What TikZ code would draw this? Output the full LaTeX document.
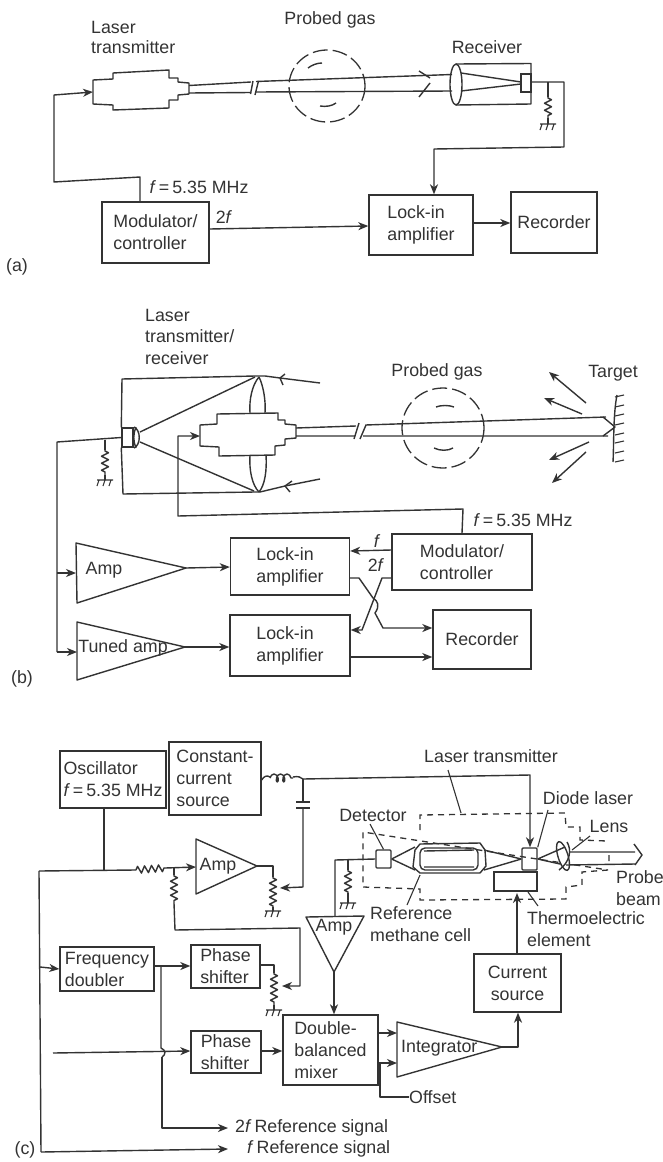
\documentclass[tikz,border=0pt]{standalone}
\usepackage{fontspec}
\setmainfont{Liberation Sans}
\usetikzlibrary{arrows.meta,decorations.pathmorphing,calc}
\definecolor{ink}{HTML}{333333}
\newcommand{\fq}{\textit{f}}
\tikzset{
  wire/.style={draw=ink,line width=1.4pt,line join=round},
  thin wire/.style={draw=ink,line width=1.1pt},
  arr/.style={wire,-{Stealth[length=10pt,width=8pt,inset=3pt]}},
  dash box/.style={draw=ink,line width=1.3pt,dash pattern=on 6pt off 5pt},
  gasline/.style={draw=ink,line width=1.3pt,dash pattern=on 15pt off 5pt},
  blk/.style={draw=ink,line width=1.4pt,inner sep=0pt,align=left,text=ink,fill=white,
     font=\fontsize{17.8}{22}\selectfont},
  lab/.style={inner sep=0pt,align=left,text=ink,font=\fontsize{17.8}{22}\selectfont},
  labl/.style={lab,anchor=west},
  res/.style={wire,decorate,decoration={zigzag,segment length=7pt,amplitude=3.5pt,pre length=1pt,post length=1pt}},
  coilw/.style={wire,decorate,decoration={coil,segment length=6.5pt,amplitude=4pt,aspect=0.6}},
  gnd/.pic={\draw[thin wire] (-8,0)--(8,0) (-6,0)--(-8,6) (0,0)--(-2,6) (6,0)--(4,6);},
}
\begin{document}
\begin{tikzpicture}[x=1pt,y=-1pt]
\useasboundingbox (0,0) rectangle (663,1162);
\fill[white] (0,0) rectangle (663,1162);

%%%%%%%%%% panel (a)
\node[labl] (aL1) at (91,27) {Laser};
\node[labl] (aL2) at (91,47) {transmitter};
\node[lab] (aGasT) at (330,20) {Probed gas};
\node[lab] (aRecT) at (487,47) {Receiver};
\node[lab] (aF) at (199,187) {\fq\,=\,5.35 MHz};
\node[lab] (a2f) at (224,217) {2\fq};
\node[lab] (aPan) at (17,267) {(a)};

\node[blk,minimum width=107,minimum height=61] (amod) at (155.5,232.5) {Modulator/\\controller};
\node[blk,minimum width=104,minimum height=60] (alock) at (421,225) {Lock-in\\amplifier};
\node[blk,minimum width=86,minimum height=61] (arec) at (554,222.5) {Recorder};
\coordinate (amodT) at (140,202);
\coordinate (aw1) at (140,177);
\coordinate (aw2) at (54,182);
\coordinate (aw3) at (54,95);
\coordinate (alasIn) at (93,92);
\draw[arr] (amodT)--(aw1)--(aw2)--(aw3)--(alasIn);
\draw[wire] (93,80)--(113,79)--(113,73)--(169,70)--(169,78)--(178,78)--(178,82)--(189,83)--(189,94)--(178,95)--(178,100)--(169,100)--(169,108)--(113,110)--(113,105)--(93,104)--cycle;
\coordinate (abT1) at (189,85.5); \coordinate (abT2) at (251,82);
\coordinate (abT3) at (256,81.5); \coordinate (abT4) at (452,74.5);
\coordinate (abB1) at (189,93); \coordinate (abB2) at (251,92.5);
\coordinate (abB3) at (256,92); \coordinate (abB4) at (452,91);
\draw[wire] (abT1)--(abT2) (abT3)--(abT4) (abB1)--(abB2) (abB3)--(abB4);
\draw[wire] (253,81)--(250.5,94) (258.5,81)--(255,95);
\draw[wire] (419,71)--(430,78) (430,83)--(419,97);
\draw[gasline] (327,86) ellipse (38 and 36);
\draw[wire] (308,68) .. controls (312,65) and (317,63) .. (322,63);
\draw[wire] (320,106) .. controls (326,107) and (332,106) .. (336,103);
% receiver
\draw[wire] (456,64)--(531,63.5)--(531,104)--(456,105);
\draw[wire] (456,84.5) ellipse (6 and 20.5);
\draw[wire] (461,73)--(521,82) (461,91)--(521,84);
\node[draw=ink,line width=1.4pt,fill=white,inner sep=0pt,minimum width=10,minimum height=18] (adet) at (526,83) {};
\coordinate (aJ) at (548,82);
\coordinate (aw4) at (564,82);
\coordinate (aw5) at (564,147);
\coordinate (aw6) at (434,149);
\draw[arr] (adet.east |- aJ)--(aw4)--(aw5)--(aw6)--(alock.north -| aw6);
\coordinate (aG) at (548,124);
\draw[wire] (aJ)--(548,97);
\draw[res] (548,97)--(548,118);
\draw[wire] (548,118)--(aG);
\pic at (aG) {gnd};
\draw[arr] (amod.east |- 0,229)--(alock.west |- 0,226);
\draw[arr] (alock.east |- 0,223)--(arec.west |- 0,223);

%%%%%%%%%% panel (b)
\node[labl] (bL1) at (145,315) {Laser};
\node[labl] (bL2) at (145,336) {transmitter/};
\node[labl] (bL3) at (145,358) {receiver};
\node[lab] (bGasT) at (437,372) {Probed gas};
\node[lab] (bTar) at (613,373) {Target};
\node[lab] (bF) at (523,520) {\fq\,=\,5.35 MHz};
\node[lab] (bf) at (377,541) {\fq};
\node[lab] (b2f) at (376,565) {2\fq};
\node[lab] (bPan) at (22,679) {(b)};

\node[blk,minimum width=140,minimum height=56] (bmod) at (462,562) {Modulator/\\controller};
\node[blk,minimum width=119,minimum height=57] (block1) at (290,566.5) {Lock-in\\amplifier};
\node[blk,minimum width=120,minimum height=61] (block2) at (290,645.5) {Lock-in\\amplifier};
\node[blk,minimum width=98,minimum height=59] (brec) at (482,639.5) {Recorder};
\node[draw=ink,line width=1.4pt,inner sep=0pt,minimum width=11,minimum height=19] (bdet) at (127.5,437.5) {};

% receiver optics
\coordinate (lt) at (259,377); \coordinate (lb) at (259,492);
\draw[wire] (bdet.north west)--(122,379)--(255,376)--(265,376)--(280,378)--(320,383);
\draw[wire] (bdet.south west)--(123,494)--(255,492)--(260,492)--(285,486)--(320,479);
\draw[wire] (285,374)--(280,378)--(283,385);
\draw[wire] (292,481)--(285,486)--(290,492);
\draw[wire] (255,377)--(140,432) (254,491)--(140,442);
\draw[wire] (134,427) .. controls (141,430) and (141,445) .. (134,448);
\draw[wire] (136,427) .. controls (133,435) and (133,440) .. (136,448);
\draw[wire] (lt) .. controls (252,385) and (249,400) .. (250,413);
\draw[wire] (lt) .. controls (263,385) and (266,400) .. (265,413);
\draw[wire] (250,455) .. controls (249,470) and (252,485) .. (lb);
\draw[wire] (266,455) .. controls (267,470) and (265,485) .. (lb);
% laser
\draw[wire] (200,425)--(217,424)--(217,414)--(278,413)--(278,420)--(285,420)--(285,424)--(296,425)--(296,438)--(285,439)--(285,445)--(275,446)--(275,455)--(219,456)--(219,447)--(200,446)--cycle;
\coordinate (bLasIn) at (200,436);
\draw[wire] (296,428)--(356,426) (365.5,425)--(606,417) (296,436)--(355,436) (363,436)--(608,436);
\draw[wire] (359,423)--(354,439) (366,425)--(360,439);
\draw[wire] (603,417)--(615,427)--(603,436);
\draw[gasline] (443,428) ellipse (41 and 40);
\draw[wire] (436,407) .. controls (441,405) and (449,405) .. (454,407);
\draw[wire] (434,448) .. controls (440,451) and (448,451) .. (453,448);
% target
\draw[wire] (617,395) .. controls (613,415) and (614,445) .. (613,462);
\foreach \yy in {397,407,416,425,435,443,453,462} {\draw[thin wire] (615,\yy)--(624,\yy-2);}
\draw[arr] (586,403)--(549,372);
\draw[arr] (582,414)--(544,398);
\draw[arr] (589,442)--(549,460);
\draw[arr] (586,452)--(552,483);
% wiring
\coordinate (bw1) at (463,509); \coordinate (bw2) at (178,516); \coordinate (bw3) at (178,436);
\draw[arr] (bmod.north)--(bw1)--(bw2)--(bw3)--(bLasIn);
\coordinate (bJ) at (105,440);
\coordinate (bBus) at (57,442);
\coordinate (bAmpIn) at (76,573); \coordinate (bTunIn) at (77,652);
\coordinate (bBusA) at (57,573); \coordinate (bBusT) at (57,652);
\draw[wire] (bdet.west)--(bBus)--(bBusT);
\draw[arr] (bBusA)--(bAmpIn);
\draw[arr] (bBusT)--(bTunIn);
\draw[wire] (bJ)--(105,450);
\draw[res] (105,450)--(105,475);
\coordinate (bG) at (105,480);
\draw[wire] (105,475)--(bG);
\pic at (bG) {gnd};
% amps
\coordinate (bAmpTip) at (186,568); \coordinate (bTunTip) at (185,647);
\draw[wire] (76,543)--(bAmpTip)--(77,603)--cycle;
\draw[wire] (77,622)--(bTunTip)--(77,680)--cycle;
\node[lab] (bAmp) at (104,570) {Amp};
\node[lab] (bTun) at (123,648) {Tuned amp};
\draw[arr] (bAmpTip)--(block1.west |- 0,567);
\draw[arr] (bTunTip)--(block2.west |- bTunTip);
\draw[arr] (bmod.west |- 0,550)--(block1.east |- 0,551);
\draw[arr] (bmod.west |- 0,578)--(382,578)--(362,630)--(block2.east |- 0,630);
\draw[arr] (block1.east |- 0,578)--(359,578)--(373,598) .. controls (378,601) and (380,606) .. (375,613) -- (383,628)--(brec.west |- 0,628);
\draw[arr] (block2.east |- 0,657)--(brec.west |- 0,657);

%%%%%%%%%% panel (c)
\node[blk,minimum width=106,minimum height=57] (osc) at (113,779.5) {Oscillator\\\fq\,=\,5.35 MHz};
\node[blk,minimum width=92,minimum height=73] (con) at (215,778.5) {Constant-\\current\\source};
\node[blk,minimum width=94,minimum height=44] (freq) at (107,969) {Frequency\\doubler};
\node[blk,minimum width=69,minimum height=43] (ph1) at (225.5,966.5) {Phase\\shifter};
\node[blk,minimum width=70,minimum height=42] (ph2) at (226,1052) {Phase\\shifter};
\node[blk,minimum width=95,minimum height=70] (mix) at (330.5,1050) {Double-\\balanced\\mixer};
\node[blk,align=center,minimum width=87,minimum height=58] (cur) at (517.5,983) {Current\\source};
\node[draw=ink,line width=1.4pt,inner sep=0pt,rounded corners=1pt,minimum width=15,minimum height=18] (det) at (383.5,859) {};
\node[draw=ink,line width=1.4pt,inner sep=0pt,rounded corners=1pt,minimum width=15,minimum height=22] (dio) at (529.5,859) {};
\node[draw=ink,line width=1.4pt,inner sep=0pt,minimum width=43,minimum height=19] (the) at (515.5,881.5) {};

\node[lab] (tLT) at (491,756) {Laser transmitter};
\node[lab] (tDL) at (588,798) {Diode laser};
\node[lab] (tLe) at (609,826) {Lens};
\node[lab] (tDe) at (373,815) {Detector};
\node[labl] (tRe) at (370,924) {Reference\\methane cell};
\node[labl] (tPr) at (616,888) {Probe\\beam};
\node[labl] (tTh) at (527,929) {Thermoelectric\\element};
\node[labl] (tOf) at (409,1097) {Offset};
\node[labl] (t2f) at (235,1128) {2\fq\,Reference signal};
\node[labl] (tff) at (247,1149) {\fq\,Reference signal};
\node[lab] (cPan) at (25,1150) {(c)};

% constant-current source path
\coordinate (cN) at (303,779);
\draw[wire] (con.east |- 0,780) .. controls (264,776) and (267,775) .. (270,777);
\draw[coilw] (270,778)--(293,778);
\draw[wire] (293,777) .. controls (298,776) and (301,777) .. (cN);
\coordinate (cw1) at (530,775);
\draw[arr] (cN)--(cw1)--(dio.north -| cw1);
\coordinate (capT) at (303,802); \coordinate (capB) at (303,808);
\draw[wire] (cN)--(capT) (296,802)--(310,802) (296,808)--(310,808);
\coordinate (pot1) at (273,888);
\coordinate (cw2) at (303,887);
\draw[arr] (capB)--(cw2)--(280,888);
% oscillator to bus
\coordinate (bus) at (39,871);
\coordinate (oscJ) at (104,870);
\coordinate (r1a) at (135,870); \coordinate (r1b) at (165,868);
\coordinate (ampIn) at (196,867);
\draw[wire] (osc.south -| oscJ)--(oscJ);
\draw[wire] (bus)--(r1a);
\draw[res] (r1a)--(r1b);
\draw[arr] (r1b)--(ampIn);
\draw[wire] (196,839)--(257,866)--(196,894)--cycle;
\node[lab] (cAmp1) at (218,866) {Amp};
\coordinate (tap) at (174,868);
\draw[wire] (tap)--(174,875);
\draw[res] (174,875)--(174,903);
\coordinate (cw3) at (175,930); \coordinate (cw4) at (300,928); \coordinate (cw5) at (300,986);
\draw[arr] (174,903)--(cw3)--(cw4)--(cw5)--(282,986);
% amp output pot
\draw[wire] (257,866)--(273,866)--(273,877);
\draw[res] (273,877)--(273,907);
\coordinate (g1) at (273,911);
\draw[wire] (273,907)--(g1);
\pic at (g1) {gnd};
% bus
\coordinate (bus2) at (41,1152);
\coordinate (busE) at (228,1149);
\draw[wire] (bus)--(bus2);
\draw[arr] (bus2)--(busE);
\coordinate (busF) at (40,967);
\draw[arr] (busF)--(freq.west);
% freq doubler
\draw[arr] (freq.east |- 0,966)--(ph1.west |- 0,966);
\draw[wire] (ph1.east |- 0,965)--(274,965)--(274,973);
\draw[res] (274,973)--(274,1005);
\coordinate (g2) at (274,1010);
\draw[wire] (274,1005)--(g2);
\pic at (g2) {gnd};
\coordinate (fa) at (161,967); \coordinate (fb) at (161,1048);
\coordinate (fc) at (162,1057); \coordinate (fd) at (162,1128); \coordinate (fe) at (228,1128);
\draw[wire] (fa)--(fb) .. controls (166,1050) and (166,1055) .. (fc);
\draw[arr] (fc)--(fd)--(fe);
\coordinate (inL) at (53,1053);
\draw[arr] (inL)--(ph2.west |- 0,1051);
\draw[arr] (ph2.east |- 0,1051)--(mix.west |- 0,1051);
% Amp 2
\coordinate (ampT) at (334,972);
\draw[wire] (306,917)--(364,916)--(ampT)--cycle;
\node[lab] (cAmp2) at (334,927) {Amp};
\draw[arr] (ampT)--(mix.north -| ampT);
\coordinate (dw1) at (335,860);
\draw[wire] (335,916)--(dw1)--(det.west);
\coordinate (dJ) at (348,860);
\draw[wire] (dJ)--(348,870);
\draw[res] (348,870)--(348,893);
\coordinate (g3) at (348,903);
\draw[wire] (348,893)--(g3);
\pic at (g3) {gnd};
% cell
\draw[wire] (415,850)--(420,844)--(480,843)--(485,850)--(486,866)--(480,873)--(420,873)--(413,867)--cycle;
\draw[wire,rounded corners=5pt] (420,848) rectangle (478,870);
\draw[wire] (424,851)--(474,850) (424,867)--(474,867);
\draw[wire] (det.east)--(415,847) (det.east)--(415,870);
\draw[wire] (484,850)--(dio.west) (484,870)--(dio.west);
% dashed box
\draw[dash box] (420,830)--(420,815)--(565,813)--(566,827)--(580,827)--(580,840)--(607,841) (609,855)--(609,865) (608,870)--(582,872)--(582,885)--(566,887)--(566,899)--(420,900)--(420,889)--(363,887)--(363,832)--cycle;
% lens
\draw[wire,fill=white,rotate around={17:(563,856)}] (563,856) ellipse (5 and 15);
\draw[wire] (567,842) .. controls (572,850) and (570,862) .. (559,870);
\draw[wire] (dio.east)--(565,847) (dio.east)--(560,864);
\draw[wire] (570,852)--(635,852) (566,865)--(635,864);
\draw[wire] (634,844)--(642,855)--(635,865);
% leaders
\coordinate (lLT) at (448,770); \coordinate (lLTb) at (461,813);
\coordinate (lDL) at (548,810); \coordinate (lLe) at (590,836); \coordinate (lLeb) at (572,850);
\coordinate (lDe) at (370,824); \coordinate (lRe) at (407,905); \coordinate (lReb) at (420,875);
\coordinate (lTh) at (538,906); \coordinate (lThb) at (528,892);
\draw[thin wire] (lLT)--(lLTb) (lDL)--(dio.north east) (lLe)--(lLeb) (lDe)--(det.north) (lRe)--(lReb) (lTh)--(lThb);
% current source
\coordinate (curT) at (517,954);
\coordinate (theB) at (517,893);
\draw[arr] (curT)--(theB);
% integrator
\coordinate (intTip) at (502,1047);
\coordinate (intC) at (518,1047);
\draw[wire] (397,1022)--(intTip)--(397,1077)--cycle;
\node[labl] (cInt) at (401,1048) {Integrator};
\draw[arr] (intTip)--(intC)--(cur.south -| intC);
\draw[arr] (mix.east |- 0,1033)--(397,1033);
\draw[arr] (mix.east |- 0,1063)--(397,1063);
\coordinate (of) at (380,1063);
\coordinate (of2) at (380,1097);
\draw[wire] (of)--(of2)--(tOf.west);
\end{tikzpicture}
\end{document}
